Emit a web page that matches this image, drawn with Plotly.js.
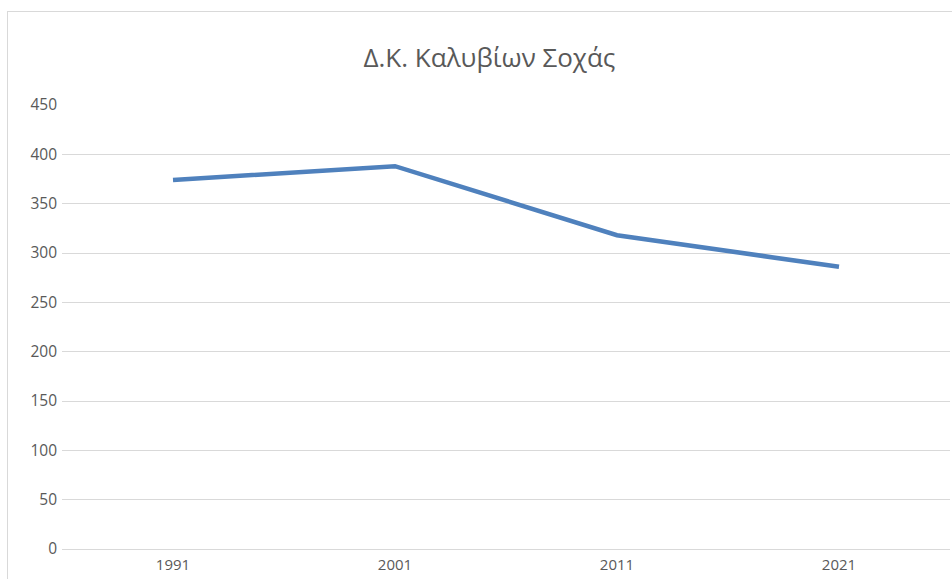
<!DOCTYPE html>
<html>
<head>
<meta charset="utf-8">
<script src="https://cdn.plot.ly/plotly-3.0.1.min.js"></script>
<style>
  html, body { margin: 0; padding: 0; background: #ffffff; overflow: hidden; }
  #frame { position: absolute; left: 7px; top: 11px; width: 945px; height: 568px;
           border-left: 1px solid #d9d9d9; border-top: 1px solid #d9d9d9; box-sizing: border-box; }
  #chart { width: 944px; height: 567px; }
</style>
</head>
<body>
<div id="frame"><div id="chart"></div></div>
<script>
const chartTitle = 'Δ.Κ. Καλυβίων Σοχάς';
const years = ['1991', '2001', '2011', '2021'];
const population = [374, 388, 318, 286];
const yTicks = [0, 50, 100, 150, 200, 250, 300, 350, 400, 450];

const trace = {
  type: 'scatter',
  mode: 'lines',
  x: years,
  y: population,
  line: { color: '#4F81BD', width: 4.5 },
  hoverinfo: 'x+y'
};

const layout = {
  width: 944,
  height: 567,
  margin: { l: 54, r: 2, t: 93, b: 30 },
  paper_bgcolor: '#ffffff',
  plot_bgcolor: '#ffffff',
  showlegend: false,
  font: { family: 'Open Sans, sans-serif', color: '#595959', size: 15 },
  title: {
    text: chartTitle,
    font: { family: 'Open Sans, sans-serif', size: 26, color: '#595959' },
    x: 0.51, xref: 'container', xanchor: 'center',
    y: 1 - 46 / 567, yref: 'container', yanchor: 'middle'
  },
  xaxis: {
    type: 'category',
    range: [-0.5, 3.5],
    showgrid: false,
    zeroline: false,
    showline: false,
    ticks: '',
    ticklabelstandoff: 5,
    tickfont: { size: 15, color: '#595959' },
    fixedrange: true
  },
  yaxis: {
    range: [0, 450],
    tickvals: yTicks,
    ticktext: yTicks.map(String),
    showgrid: true,
    gridcolor: '#d9d9d9',
    gridwidth: 1,
    zeroline: true,
    zerolinecolor: '#d9d9d9',
    zerolinewidth: 1,
    showline: false,
    ticks: '',
    ticklabelstandoff: 4,
    tickfont: { size: 15.5, color: '#595959' },
    fixedrange: true
  }
};

Plotly.newPlot('chart', [trace], layout, { displayModeBar: false, staticPlot: true });
</script>
</body>
</html>
